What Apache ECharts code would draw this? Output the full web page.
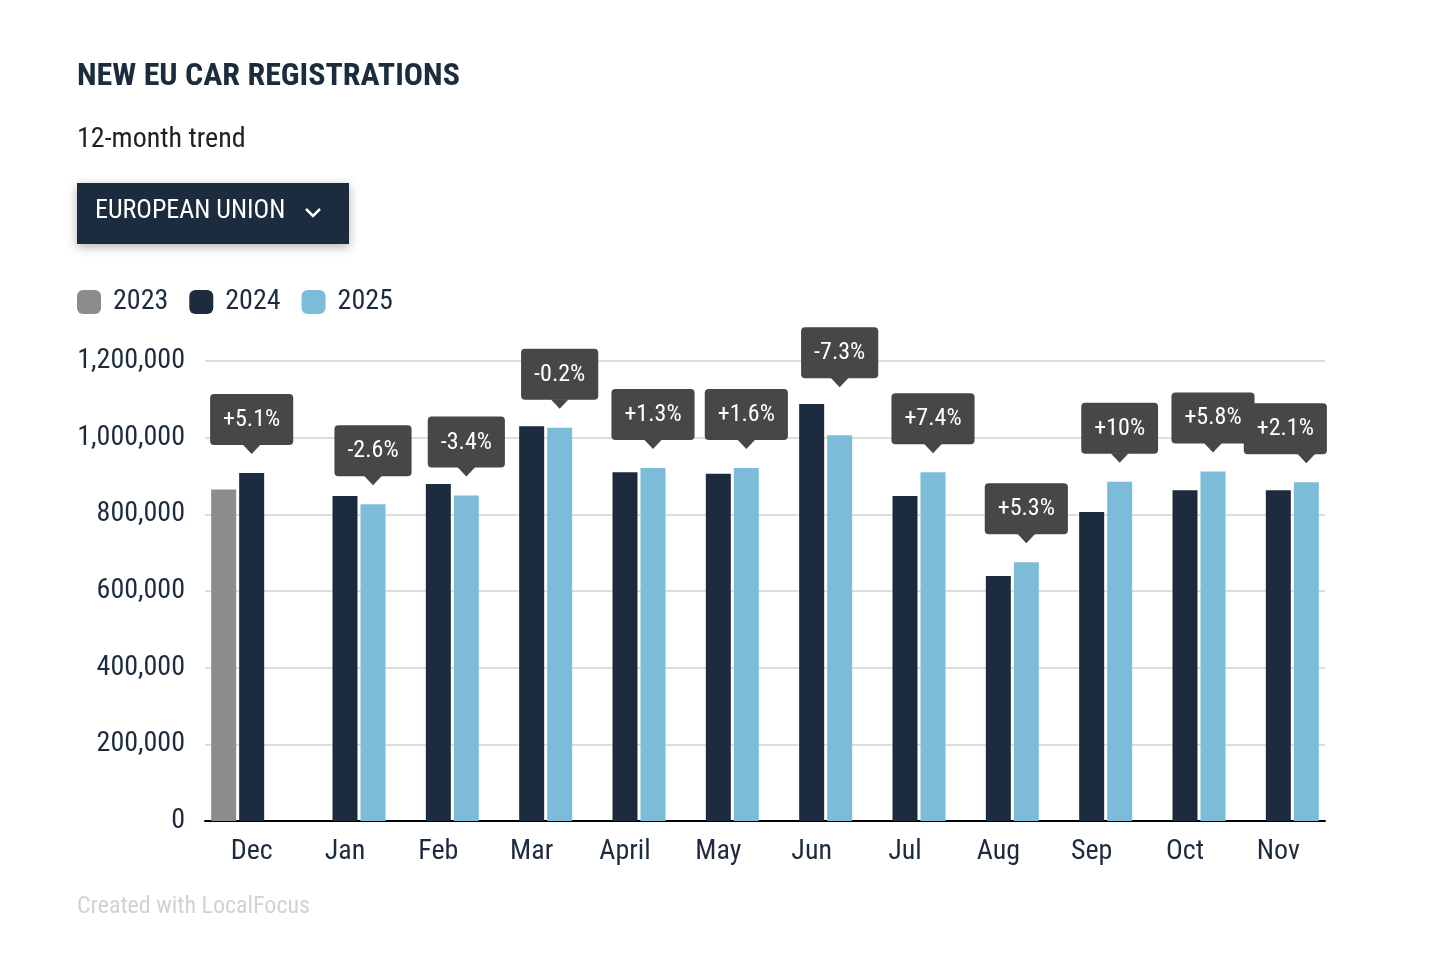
<!DOCTYPE html>
<html>
<head>
<meta charset="utf-8">
<script src="https://cdn.jsdelivr.net/npm/echarts@6/dist/echarts.min.js"></script>
<style>
html,body{margin:0;padding:0;background:#fff;}
#c{width:1436px;height:956px;}
</style>
</head>
<body>
<div id="c"></div>
<script>
const categories = ['Dec','Jan','Feb','Mar','April','May','Jun','Jul','Aug','Sep','Oct','Nov'];
const values2023 = [865000, null, null, null, null, null, null, null, null, null, null, null];
const values2024 = [908000, 848000, 879000, 1030000, 910000, 906000, 1088000, 848000, 639000, 806000, 863000, 863000];
const values2025 = [null, 826000, 849000, 1026000, 921000, 921000, 1006000, 910000, 675000, 885000, 912000, 884000];
const changeLabels = ['+5.1%','-2.6%','-3.4%','-0.2%','+1.3%','+1.6%','-7.3%','+7.4%','+5.3%','+10%','+5.8%','+2.1%'];
const yTicks = [0, 200000, 400000, 600000, 800000, 1000000, 1200000];

const FONT = '"Roboto Condensed","Liberation Sans Narrow","DejaVu Sans Condensed","Roboto",sans-serif';
const W = 400;
const DARK = '#1c2b3d';
const BOX = '#474747';
const BAR_W = 25, BAR_GAP_PX = 3;
const LABEL_DIST = 28, ARROW_H = 9, ARROW_HALF = 9;

// when the older bar is clearly taller, the callout is lifted so it does not cover it
const liftFor = (i) => (values2025[i] !== null && values2024[i] - values2025[i] > 60000) ? 29 : 0;
// the last callout is kept inside the plot's right edge
const shiftFor = (i) => (i === categories.length - 1) ? -21 : 0;

const labelCfg = (txt, i) => ({
  show: true,
  position: 'top',
  distance: LABEL_DIST,
  offset: [shiftFor(i), -liftFor(i)],
  formatter: txt,
  backgroundColor: BOX,
  borderRadius: 4,
  padding: [13, 13, 12, 13],
  color: '#fff',
  fontSize: 24,
  fontWeight: W,
  lineHeight: 26,
  fontFamily: FONT
});

const data2024 = values2024.map((v, i) => i === 0 ? {value: v, label: labelCfg(changeLabels[i], i)} : v);
const data2025 = values2025.map((v, i) => v === null ? v : {value: v, label: labelCfg(changeLabels[i], i)});
// pointer data: index, value of the bar carrying the callout, which series (1 = 2024 centre bar, 2 = 2025 right bar)
const pointerData = categories.map((c, i) => values2025[i] !== null ? [i, values2025[i], 2] : [i, values2024[i], 1]);

const chart = echarts.init(document.getElementById('c'));
chart.setOption({
  animation: false,
  textStyle: {fontFamily: FONT},
  grid: {left: 205, right: 111, top: 361, bottom: 135, containLabel: false},
  legend: {
    left: 72, top: 283,
    itemWidth: 24, itemHeight: 24, itemGap: 21,
    icon: 'roundRect',
    textStyle: {fontSize: 28, fontWeight: W, color: DARK, fontFamily: FONT, padding: [0, 0, 0, 7]},
    data: ['2023', '2024', '2025']
  },
  xAxis: {
    type: 'category',
    data: categories,
    axisLine: {lineStyle: {color: '#000', width: 2}},
    axisTick: {show: false},
    axisLabel: {fontSize: 28, fontWeight: W, color: DARK, margin: 17, fontFamily: FONT}
  },
  yAxis: {
    type: 'value',
    min: 0, max: 1200000, interval: 200000,
    axisLine: {show: false},
    axisTick: {show: false},
    splitLine: {lineStyle: {color: '#dedede', width: 2}},
    axisLabel: {
      fontSize: 28, fontWeight: W, color: DARK, margin: 20, fontFamily: FONT,
      formatter: v => yTicks.includes(v) ? v.toLocaleString('en-US') : ''
    }
  },
  series: [
    {name: '2023', type: 'bar', data: values2023, barWidth: BAR_W, barGap: '12%', itemStyle: {color: '#8c8c8e'}},
    {name: '2024', type: 'bar', data: data2024, barWidth: BAR_W, barGap: '12%', itemStyle: {color: DARK}},
    {name: '2025', type: 'bar', data: data2025, barWidth: BAR_W, barGap: '12%', itemStyle: {color: '#7dbcd8'}},
    {
      name: 'pointer', type: 'custom', silent: true, z: 5,
      data: pointerData,
      encode: {x: 0, y: 1},
      renderItem: function (params, api) {
        const i = api.value(0);
        const p = api.coord([i, api.value(1)]);
        const dx = (api.value(2) - 1) * (BAR_W + BAR_GAP_PX);
        const x = p[0] + dx;
        const yb = p[1] - LABEL_DIST - liftFor(i);
        return {
          type: 'polygon',
          shape: {points: [[x - ARROW_HALF, yb - 0.5], [x + ARROW_HALF, yb - 0.5], [x, yb + ARROW_H]]},
          style: {fill: BOX}
        };
      }
    }
  ],
  graphic: [
    {type: 'text', left: 77, top: 61, style: {text: 'NEW EU CAR REGISTRATIONS', font: 'bold 32px ' + FONT, fill: DARK}},
    {type: 'text', left: 77, top: 126, style: {text: '12-month trend', font: W + ' 28px ' + FONT, fill: '#222'}},
    {type: 'rect', shape: {x: 77, y: 183, width: 272, height: 61}, style: {fill: DARK, shadowBlur: 10, shadowOffsetY: 3, shadowColor: 'rgba(0,0,0,0.3)'}},
    {type: 'text', left: 95, top: 198, style: {text: 'EUROPEAN UNION', font: W + ' 26px ' + FONT, fill: '#fff'}},
    {type: 'polyline', shape: {points: [[306, 209], [313, 216], [320, 209]]}, style: {stroke: '#fff', lineWidth: 2.5, fill: null}},
    {type: 'text', left: 77, top: 895, style: {text: 'Created with LocalFocus', font: W + ' 24px ' + FONT, fill: '#d2d2d2'}}
  ]
});
</script>
</body>
</html>
